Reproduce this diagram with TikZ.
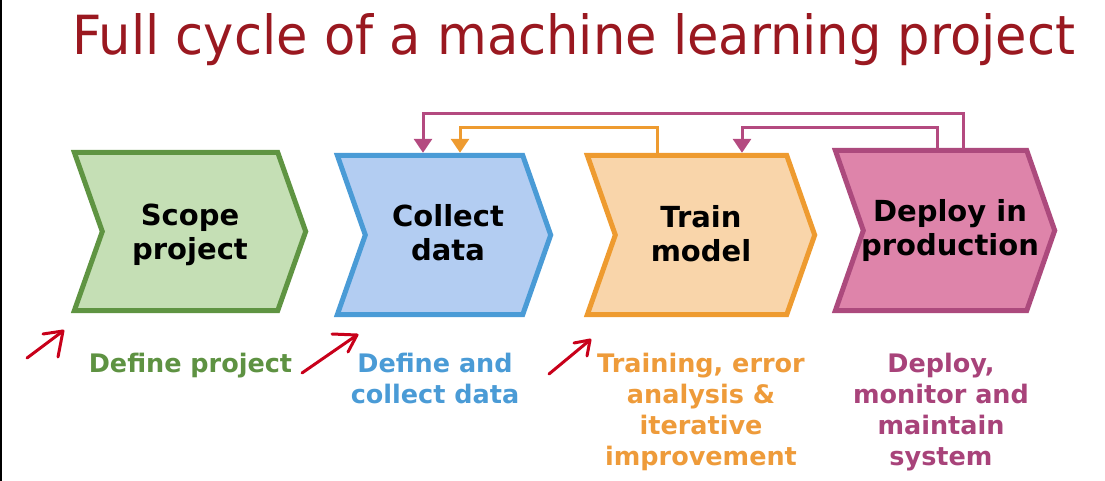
\documentclass[tikz,border=0pt]{standalone}
\usepackage{graphicx}
\usepackage{fontspec}
\setmainfont{DejaVu Sans}
\usetikzlibrary{arrows.meta,backgrounds,calc}
\definecolor{greenFill}{RGB}{197,223,181}
\definecolor{greenLine}{RGB}{95,148,66}
\definecolor{greenText}{RGB}{94,146,66}
\definecolor{blueFill}{RGB}{179,205,242}
\definecolor{blueLine}{RGB}{74,155,214}
\definecolor{blueText}{RGB}{74,155,214}
\definecolor{orangeFill}{RGB}{249,213,170}
\definecolor{orangeLine}{RGB}{238,155,48}
\definecolor{orangeText}{RGB}{238,155,58}
\definecolor{pinkFill}{RGB}{222,132,170}
\definecolor{pinkLine}{RGB}{172,74,125}
\definecolor{pinkText}{RGB}{168,67,122}
\definecolor{fbPink}{RGB}{180,74,128}
\definecolor{titleRed}{RGB}{154,24,32}
\definecolor{markRed}{RGB}{200,0,26}
\newcommand\chevdraw[3]{%
  \draw[line width=5pt, line join=miter, fill=#2, draw=#3]
    (#1.north west) -- ([xshift=-28pt]#1.north east) -- (#1.east)
    -- ([xshift=-28pt]#1.south east) -- (#1.south west)
    -- ([xshift=28pt]#1.west) -- cycle;}
\tikzset{
  body/.style={inner sep=0pt},
  boxtext/.style={inner sep=0pt, align=center, text=black,
    font=\bfseries\fontsize{29}{34}\selectfont},
  lab/.style={inner sep=0pt, align=center, anchor=north,
    font=\bfseries\fontsize{25.5}{31}\selectfont},
  fb/.style={line width=3pt, line join=miter, shorten >=2.5pt,
    -{Triangle[width=18pt,length=14pt]}},
  redmark/.style={line width=3pt, line cap=round, line join=round, draw=markRed}
}
\begin{document}
\begin{tikzpicture}[x=1pt,y=-1pt]
\useasboundingbox (0,0) rectangle (1105,481);
\fill[black] (0,0) rectangle (2,481);

% title
\node[anchor=base west, inner sep=0pt, text=titleRed] (title) at (72,55)
  {\resizebox{1003pt}{41pt}{Full cycle of a machine learning project}};

% chevron bodies
\node[body, minimum width=231pt, minimum height=158pt,
  label={[boxtext, yshift=-3pt]center:Scope\\project}] (scope) at (190,231.5) {};
\node[body, minimum width=213pt, minimum height=159pt,
  label={[boxtext, xshift=4pt, yshift=2pt]center:Collect\\data}] (collect) at (444,235) {};
\node[body, minimum width=227pt, minimum height=159pt,
  label={[boxtext, yshift=1pt]center:Train\\model}] (train) at (701,235) {};
\node[body, minimum width=219pt, minimum height=160pt,
  label={[boxtext, xshift=5pt]center:Deploy in\\production}] (deploy) at (945,230.5) {};

\begin{scope}[on background layer]
  \chevdraw{scope}{greenFill}{greenLine}
  \chevdraw{collect}{blueFill}{blueLine}
  \chevdraw{train}{orangeFill}{orangeLine}
  \chevdraw{deploy}{pinkFill}{pinkLine}
\end{scope}

% feedback loops
\draw[fb, draw=fbPink] ([xshift=18pt]deploy.north) -- ++(0,-37) -| ([xshift=-21pt]collect.north);
\draw[fb, draw=orangeLine] ([xshift=-44pt]train.north) -- ++(0,-27.5) -| ([xshift=16pt]collect.north);
\draw[fb, draw=fbPink] ([xshift=-8pt]deploy.north) -- ++(0,-22.5) -| ([xshift=41pt]train.north);

% labels
\node[lab, text=greenText] (l1) at (190.5,353) {Define project};
\node[lab, text=blueText] (l2) at (435,353) {Define and\\collect data};
\node[lab, text=orangeText] (l3) at (701,353) {Training, error\\analysis \&\\iterative\\improvement};
\node[lab, text=pinkText] (l4) at (941,353) {Deploy,\\monitor and\\maintain\\system};

% hand-drawn red arrows
\coordinate (a1s) at (27,358); \coordinate (a1t) at (63,331);
\coordinate (a1b) at (43,334); \coordinate (a1c) at (58,357);
\draw[redmark] (a1s) -- (a1t);
\draw[redmark] (a1b) -- (a1t) -- (a1c);
\coordinate (a2s) at (302,373); \coordinate (a2t) at (357,335);
\coordinate (a2b) at (332,334); \coordinate (a2c) at (348,352);
\draw[redmark] (a2s) -- (a2t);
\draw[redmark] (a2b) -- (a2t) -- (a2c);
\coordinate (a3s) at (549,374); \coordinate (a3t) at (590,340);
\coordinate (a3b) at (574,343); \coordinate (a3c) at (587,356);
\draw[redmark] (a3s) -- (a3t);
\draw[redmark] (a3b) -- (a3t) -- (a3c);
\end{tikzpicture}
\end{document}
